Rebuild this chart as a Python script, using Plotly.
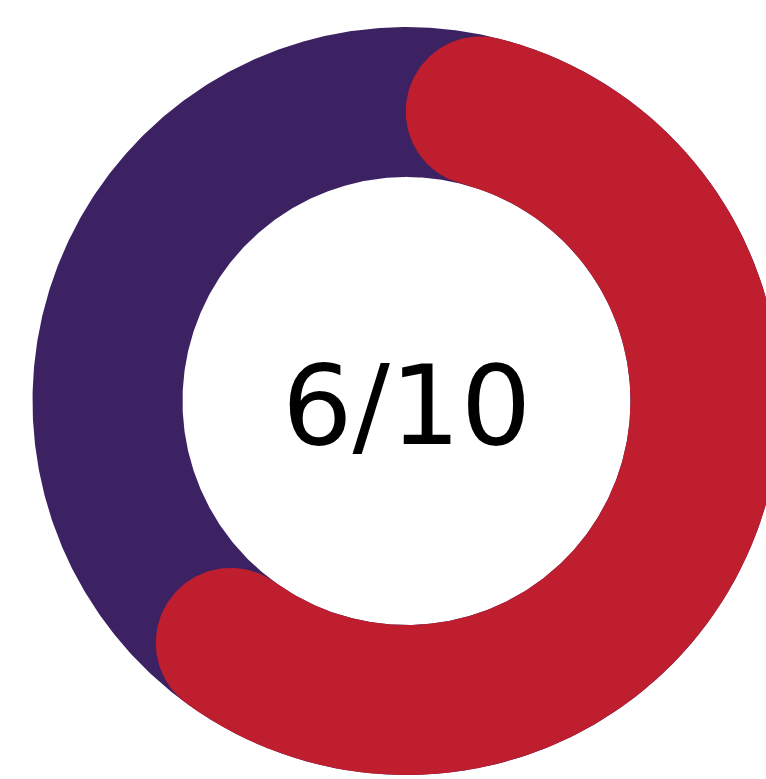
import numpy as np
import plotly.graph_objects as go

# ---- data ----
score = 6
total = 10
label_text = f"{score}/{total}"
track_color = "#3C2163"
value_color = "#BE1E2E"

# ---- geometry (pixel-like data units) ----
R_out = 374.0
R_in = 224.0
mid = (R_out + R_in) / 2
half = (R_out - R_in) / 2


def pt(r, a):
    return r * np.sin(a), r * np.cos(a)


# background ring (full track)
t = np.linspace(0, 2 * np.pi, 721)
ox, oy = pt(R_out, t)
ix, iy = pt(R_in, t[::-1])
ring_x = np.concatenate([ox, ix, ox[:1]])
ring_y = np.concatenate([oy, iy, oy[:1]])

# value arc with round caps
cap_ang = half / mid
a0 = cap_ang
a1 = 2 * np.pi * score / total
aa = np.linspace(a0, a1, 400)
phi = np.linspace(0, np.pi, 90)

oxa, oya = pt(R_out, aa)
ixa, iya = pt(R_in, aa[::-1])

# end cap
cx1, cy1 = pt(mid, a1)
n1 = np.array([np.sin(a1), np.cos(a1)])
t1 = np.array([np.cos(a1), -np.sin(a1)])
e_x = cx1 + half * (n1[0] * np.cos(phi) + t1[0] * np.sin(phi))
e_y = cy1 + half * (n1[1] * np.cos(phi) + t1[1] * np.sin(phi))

# start cap
cx0, cy0 = pt(mid, a0)
n0 = np.array([np.sin(a0), np.cos(a0)])
t0 = np.array([np.cos(a0), -np.sin(a0)])
s_x = cx0 + half * (-n0[0] * np.cos(phi) - t0[0] * np.sin(phi))
s_y = cy0 + half * (-n0[1] * np.cos(phi) - t0[1] * np.sin(phi))

arc_x = np.concatenate([oxa, e_x, ixa, s_x])
arc_y = np.concatenate([oya, e_y, iya, s_y])

fig = go.Figure()
fig.add_trace(go.Scatter(x=ring_x, y=ring_y, mode="lines", fill="toself",
                         fillcolor=track_color, line=dict(width=0, color=track_color),
                         hoverinfo="skip", showlegend=False))
fig.add_trace(go.Scatter(x=arc_x, y=arc_y, mode="lines", fill="toself",
                         fillcolor=value_color, line=dict(width=0, color=value_color),
                         hoverinfo="skip", showlegend=False))

fig.add_annotation(x=0, y=0, yshift=-4, text=label_text, showarrow=False,
                   xanchor="center", yanchor="middle",
                   font=dict(family="DejaVu Sans", size=111, color="#000000"))

W, H = 766, 779
cx_px, cy_px = 406.5, 401.0
fig.update_layout(
    width=W, height=H,
    margin=dict(l=0, r=0, t=0, b=0),
    paper_bgcolor="white", plot_bgcolor="white",
    xaxis=dict(range=[-cx_px, W - cx_px], visible=False, fixedrange=True),
    yaxis=dict(range=[cy_px - H, cy_px], visible=False, fixedrange=True),
    showlegend=False,
)
fig.write_html("out.html", config={"displayModeBar": False},
               post_script="document.body.style.margin='0';document.body.style.overflow='hidden';")
